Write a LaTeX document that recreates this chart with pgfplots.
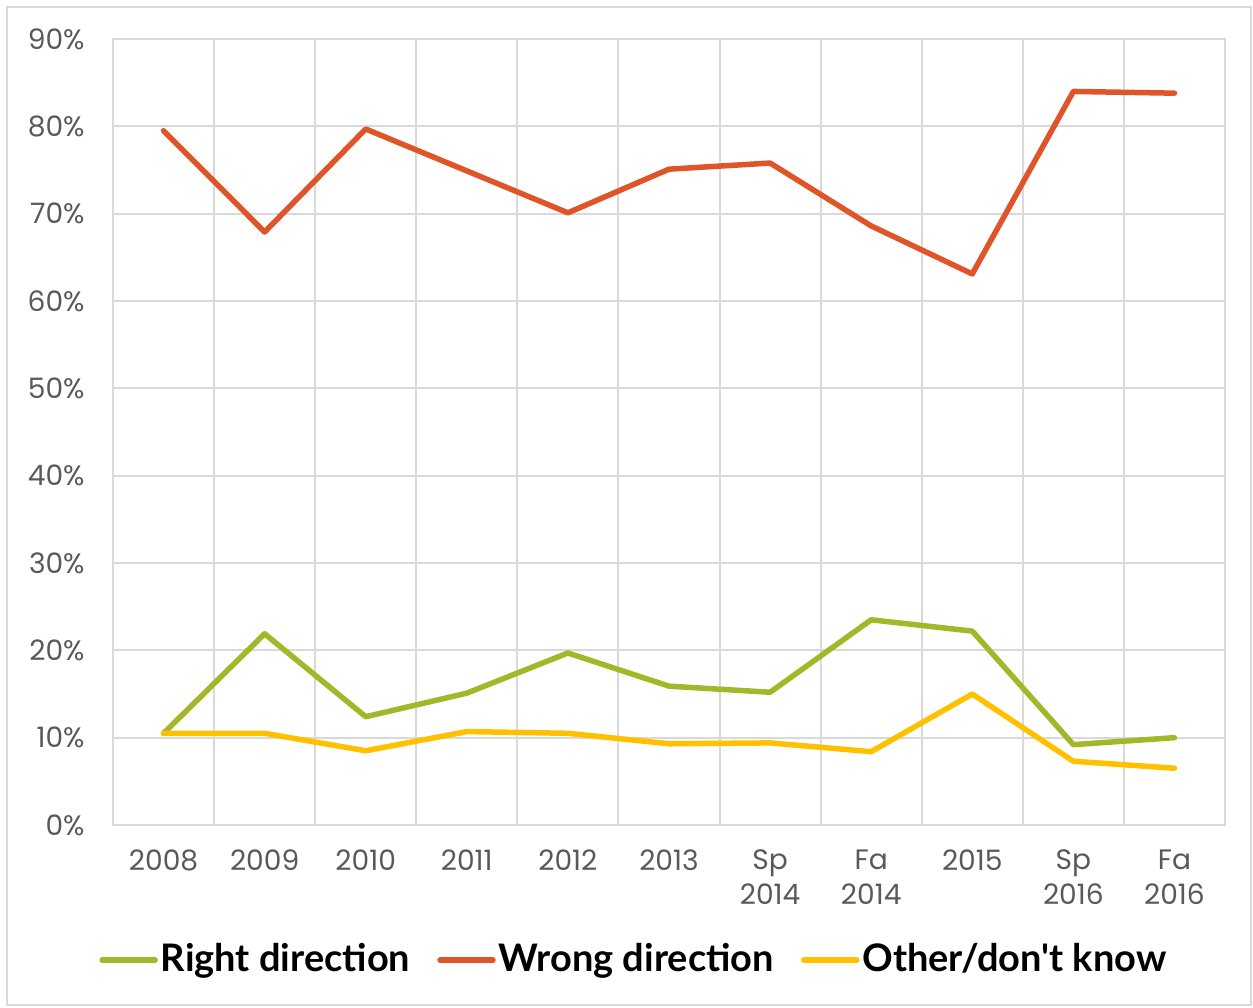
\documentclass[border=0pt]{standalone}
\usepackage{pgfplots}
\pgfplotsset{compat=1.18}
\usepackage{fontspec}
\setmainfont{Poppins}
\newfontfamily\legfont{Lato}[BoldFont={Lato Bold}]
\definecolor{cgreen}{HTML}{A2B829}
\definecolor{cred}{HTML}{E0542A}
\definecolor{cyel}{HTML}{FFC000}
\definecolor{cgrid}{HTML}{D9D9D9}
\definecolor{ctick}{HTML}{595959}
\begin{document}
\begin{tikzpicture}
\useasboundingbox (0,0) rectangle (125.3mm,100.7mm);
\draw[cgrid, line width=0.2mm] (0.7mm,0.2mm) rectangle (125.1mm,100.0mm);
\begin{axis}[
  at={(11.3mm,18.2mm)}, anchor=south west,
  scale only axis, width=111.2mm, height=78.6mm,
  xmin=-0.5, xmax=10.5, ymin=0, ymax=90,
  xtick={0,...,10},
  xticklabels={2008,2009,2010,2011,2012,2013,{Sp\\2014},{Fa\\2014},2015,{Sp\\2016},{Fa\\2016}},
  x tick label style={align=center, text=ctick, font=\fontsize{8pt}{10pt}\selectfont, anchor=north, yshift=-1.2mm},
  minor xtick={-0.5,0.5,...,10.5},
  xminorgrids=true, xmajorgrids=false,
  ytick={0,10,...,90},
  yticklabel={\pgfmathprintnumber{\tick}\%},
  y tick label style={text=ctick, font=\fontsize{8pt}{9.6pt}\selectfont, xshift=-1.6mm},
  ymajorgrids=true,
  /pgf/number format/assume math mode=true,
  major tick length=0pt, minor tick length=0pt,
  grid style={cgrid, line width=0.2mm},
  minor grid style={cgrid, line width=0.2mm},
  axis line style={cgrid, line width=0.2mm},
  legend columns=3,
  legend style={at={(0.469,-0.172)}, anchor=center, draw=none, fill=none,
    font=\legfont\bfseries\fontsize{10.8pt}{12pt}\selectfont,
    /tikz/every even column/.append style={column sep=2.4mm},
    nodes={inner xsep=0.3mm},
    inner sep=0pt},
  legend image code/.code={\draw[#1, line cap=round] (0mm,0mm) -- (5.3mm,0mm);},
  every axis plot/.append style={line width=0.55mm, line join=round, line cap=round},
]
\addplot[cgreen] coordinates {(0,10.5) (1,21.9) (2,12.4) (3,15.1) (4,19.7) (5,15.9) (6,15.2) (7,23.5) (8,22.2) (9,9.2) (10,10.0)};
\addlegendentry{Right direction}
\addplot[cred] coordinates {(0,79.5) (1,67.9) (2,79.7) (3,74.9) (4,70.1) (5,75.1) (6,75.8) (7,68.6) (8,63.1) (9,84.0) (10,83.8)};
\addlegendentry{Wrong direction}
\addplot[cyel] coordinates {(0,10.5) (1,10.5) (2,8.5) (3,10.7) (4,10.5) (5,9.3) (6,9.4) (7,8.4) (8,15.0) (9,7.3) (10,6.5)};
\addlegendentry{Other/don't know}
\end{axis}
\end{tikzpicture}
\end{document}
